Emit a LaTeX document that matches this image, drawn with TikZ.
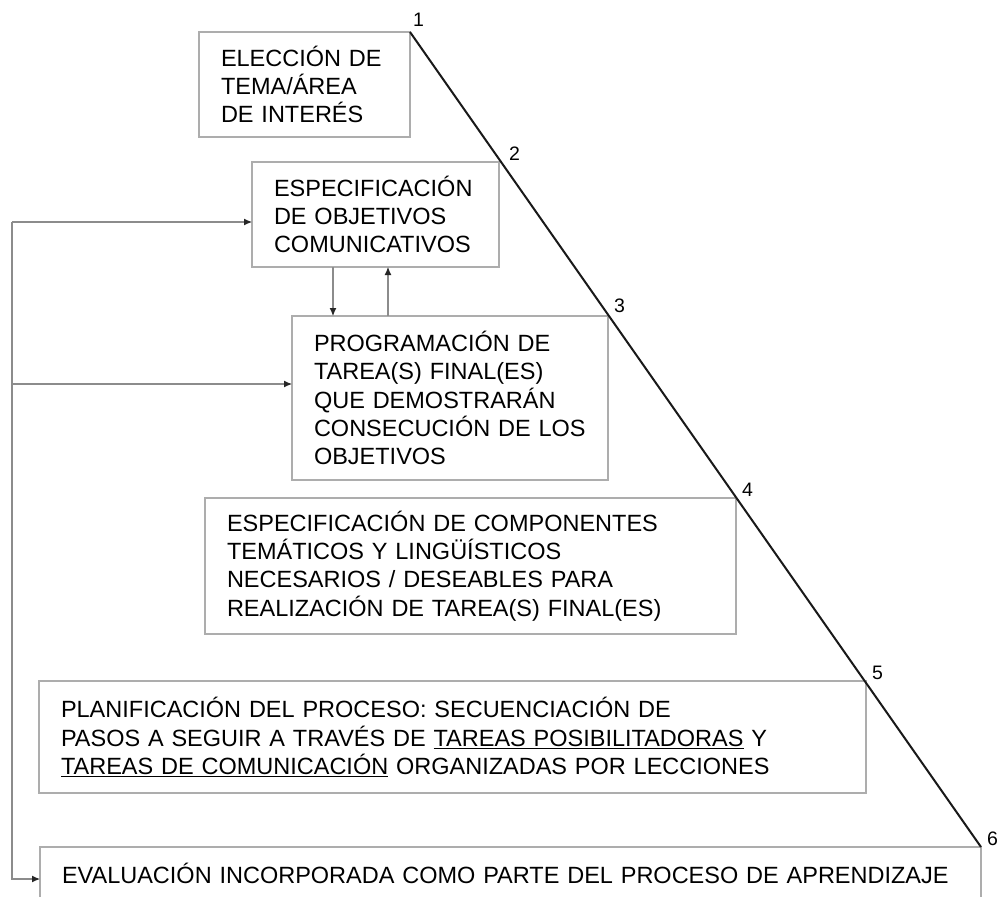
\documentclass[tikz,border=0pt]{standalone}
\usepackage{fontspec}
\setmainfont{Liberation Sans}
\usetikzlibrary{positioning, arrows.meta}
\tikzstyle{block} = [rectangle, draw=black!32, line width=1.3pt, anchor=north west,
    align=left, inner xsep=22pt, inner ysep=0pt, outer sep=0pt,
    font=\fontsize{23.5}{28.3}\selectfont]
\tikzstyle{line} = [draw, black!45, line width=1.1pt, -{Latex[length=8pt, width=7pt, black!85]}]
\tikzstyle{num} = [anchor=south west, inner sep=0pt, xshift=6pt, yshift=1pt,
    font=\fontsize{19.5}{22}\selectfont]
\tikzstyle{diag} = [draw, black!90, line width=2pt]

\begin{document}
\begin{tikzpicture}[x=1pt, y=-1pt]
\useasboundingbox (0,0) rectangle (999,897);
\node [block, text width=167pt, minimum height=105pt] (elec) at (199,32) {ELECCIÓN DE\\TEMA/ÁREA\\DE INTERÉS};
\node [block, text width=203pt, minimum height=105pt] (esp) at (252,162) {ESPECIFICACIÓN\\DE OBJETIVOS\\COMUNICATIVOS};
\node [block, text width=272pt, minimum height=164pt] (prog) at (292,316) {PROGRAMACIÓN DE\\TAREA(S) FINAL(ES)\\QUE DEMOSTRARÁN\\CONSECUCIÓN DE LOS\\OBJETIVOS};
\node [block, text width=487pt, minimum height=136pt] (comp) at (205,498) {ESPECIFICACIÓN DE COMPONENTES\\TEMÁTICOS Y LINGÜÍSTICOS\\NECESARIOS / DESEABLES PARA\\REALIZACIÓN DE TAREA(S) FINAL(ES)};
\node [block, text width=783pt, minimum height=112pt] (plan) at (39,681) {PLANIFICACIÓN DEL PROCESO: SECUENCIACIÓN DE\\PASOS A SEGUIR A TRAVÉS DE \underline{TAREAS POSIBILITADORAS} Y\\\underline{TAREAS DE COMUNICACIÓN} ORGANIZADAS POR LECCIONES};
\node [block, text width=897pt, minimum height=52pt] (eval) at (40,847) {EVALUACIÓN INCORPORADA COMO PARTE DEL PROCESO DE APRENDIZAJE};

% numbered steps along the slope
\path [diag] (elec.north east) -- (eval.north east);
\node [num, xshift=-3pt, yshift=4pt] at (elec.north east) {1};
\node [num, xshift=4pt] at (esp.north east) {2};
\node [num, yshift=2pt] at (prog.north east) {3};
\node [num] at (comp.north east) {4};
\node [num] at (plan.north east) {5};
\node [num] at (eval.north east) {6};

\coordinate (dn) at ([xshift=81pt]esp.south west);
\coordinate (up) at ([xshift=136pt]esp.south west);
\path [line] (dn) -- (dn |- prog.north);
\path [line] (up |- prog.north) -- (up);

% feedback on the left
\coordinate (fbtop) at (12,222);
\coordinate (fbmid) at (12,384);
\coordinate (fbbot) at (12,879);
\path [line] (fbtop) -- (fbtop -| esp.west);
\path [line] (fbmid) -- (fbmid -| prog.west);
\path [line] (fbtop) -- (fbbot) -- (fbbot -| eval.west);
\end{tikzpicture}
\end{document}
